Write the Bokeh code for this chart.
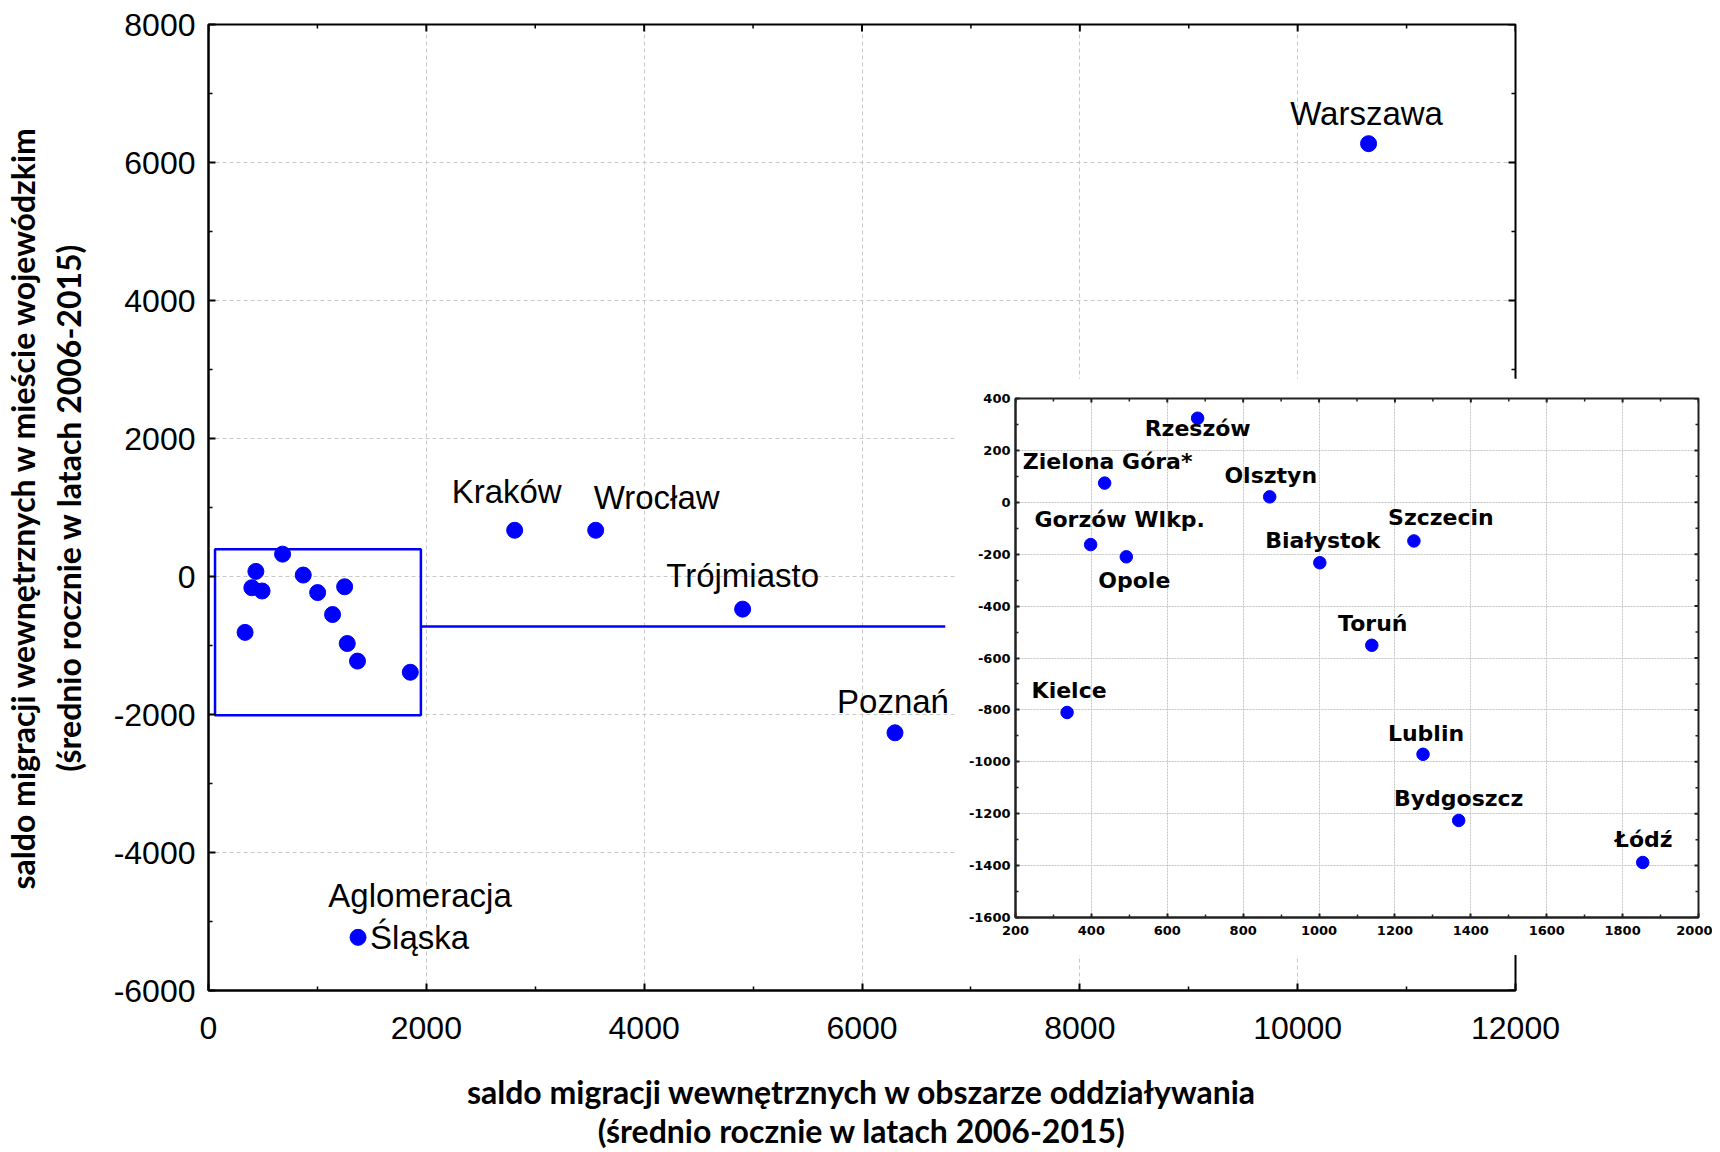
import math
from bokeh.plotting import figure
from bokeh.models import ColumnDataSource, FixedTicker, Range1d
from bokeh.embed import file_html
from bokeh.resources import INLINE
from bokeh.core.properties import value

# ---------------- data ----------------
main_cities = ["Warszawa", "Kraków", "Wrocław", "Trójmiasto", "Poznań", "Aglomeracja Śląska"]
main_x = [10651, 2811, 3555, 4904, 6303, 1373]
main_y = [6273, 670, 670, -473, -2265, -5230]

inset_cities = ["Rzeszów", "Zielona Góra*", "Olsztyn", "Gorzów Wlkp.", "Opole", "Białystok",
                "Szczecin", "Toruń", "Kielce", "Lublin", "Bydgoszcz", "Łódź"]
inset_x = [680, 435, 870, 398, 492, 1002, 1250, 1139, 336, 1274, 1368, 1853]
inset_y = [324, 74, 21, -163, -210, -233, -149, -551, -810, -971, -1226, -1388]

main_x_ticks = [0, 2000, 4000, 6000, 8000, 10000, 12000]
main_y_ticks = [-6000, -4000, -2000, 0, 2000, 4000, 6000, 8000]
inset_x_ticks = [200, 400, 600, 800, 1000, 1200, 1400, 1600, 1800, 2000]
inset_y_ticks = [-1600, -1400, -1200, -1000, -800, -600, -400, -200, 0, 200, 400]

zoom_box_x = [60, 1950]
zoom_box_y = [-2010, 395]
leader_x = [1950, 6764]
leader_y = [-725, -725]

x_title = "saldo migracji wewnętrznych w obszarze oddziaływania\n(średnio rocznie w latach 2006-2015)"
y_title = "saldo migracji wewnętrznych w mieście wojewódzkim\n(średnio rocznie w latach 2006-2015)"

# ---------------- styles ----------------
BLUE = "#0000ff"
MAIN_LABEL_POS = {  # per label line: (align, dx px, dy px)
    "Warszawa": [("center", -2, -30)],
    "Kraków": [("center", -8, -39)],
    "Wrocław": [("left", -2, -33)],
    "Trójmiasto": [("center", 0, -34)],
    "Poznań": [("center", -2, -31)],
    "Aglomeracja Śląska": [("center", 62, -42), ("left", 12, 0)],
}
INSET_LABEL_POS = {
    "Rzeszów": (0, 10), "Zielona Góra*": (3, -22), "Olsztyn": (1, -21),
    "Gorzów Wlkp.": (29, -25), "Opole": (8, 24), "Białystok": (3, -22),
    "Szczecin": (27, -23), "Toruń": (1, -22), "Kielce": (2, -22),
    "Lublin": (3, -21), "Bydgoszcz": (0, -22), "Łódź": (1, -23),
}


def mids(t):
    return [(a + b) / 2 for a, b in zip(t[:-1], t[1:])]


def style_axis(ax, ticks, font, size, bold, standoff, tick_in, minor_in, color):
    ax.ticker = FixedTicker(ticks=ticks, minor_ticks=mids(ticks))
    ax.major_label_overrides = {t: str(t) for t in ticks}
    ax.axis_line_width = 2
    ax.axis_line_color = color
    ax.major_tick_line_color = color
    ax.minor_tick_line_color = color
    ax.major_tick_line_width = 2
    ax.minor_tick_line_width = 1.5
    ax.major_tick_in = tick_in
    ax.major_tick_out = 0
    ax.minor_tick_in = minor_in
    ax.minor_tick_out = 0
    ax.major_label_text_font = font
    ax.major_label_text_font_style = "bold" if bold else "normal"
    ax.major_label_text_font_size = size
    ax.major_label_text_color = "black"
    ax.major_label_standoff = standoff


def opposite_ticks(fig, xt, yt, x_end, y_end, major_len, minor_len, color):
    """inward tick marks on the top and right frame edges (outer half is clipped by the frame)"""
    fig.scatter(xt, [y_end] * len(xt), marker="dash", angle=math.pi / 2, size=2 * major_len,
                line_color=color, line_width=2)
    fig.scatter(mids(xt), [y_end] * (len(xt) - 1), marker="dash", angle=math.pi / 2,
                size=2 * minor_len, line_color=color, line_width=1.5)
    fig.scatter([x_end] * len(yt), yt, marker="dash", size=2 * major_len,
                line_color=color, line_width=2)
    fig.scatter([x_end] * (len(yt) - 1), mids(yt), marker="dash", size=2 * minor_len,
                line_color=color, line_width=1.5)


# ---------------- main figure ----------------
p = figure(width=1712, height=1152, x_range=Range1d(0, 12000), y_range=Range1d(-6000, 8000),
           output_backend="svg", toolbar_location=None,
           min_border_left=207, min_border_right=197, min_border_top=24, min_border_bottom=160,
           x_axis_label=x_title, y_axis_label=y_title)
p.outline_line_color = "black"
p.outline_line_width = 2
p.background_fill_color = "white"
p.border_fill_color = "white"

p.xgrid.ticker = FixedTicker(ticks=main_x_ticks)
p.ygrid.ticker = FixedTicker(ticks=main_y_ticks)
for g in (p.xgrid[0], p.ygrid[0]):
    g.grid_line_color = "#c8c8c8"
    g.grid_line_dash = "4 3"
    g.grid_line_width = 1

style_axis(p.xaxis[0], main_x_ticks, "Liberation Sans", "32px", False, 26, 7, 4, "black")
style_axis(p.yaxis[0], main_y_ticks, "Liberation Sans", "32px", False, 13, 7, 4, "black")
for ax in (p.xaxis[0], p.yaxis[0]):
    ax.axis_label_text_font = "Lato"
    ax.axis_label_text_font_style = "bold"
    ax.axis_label_text_font_size = "32px"
    ax.axis_label_text_color = "black"
p.xaxis[0].axis_label_text_line_height = 1.0
p.xaxis[0].axis_label_standoff = 30
p.yaxis[0].axis_label_text_line_height = 1.17
p.yaxis[0].axis_label_standoff = 23

opposite_ticks(p, main_x_ticks, main_y_ticks, main_x_ticks[-1], main_y_ticks[-1], 7, 4, "black")

# zoom box + leader line
p.quad(left=[zoom_box_x[0]], right=[zoom_box_x[1]], bottom=[zoom_box_y[0]], top=[zoom_box_y[1]],
       fill_alpha=0, line_color=BLUE, line_width=2.5)
p.line(leader_x, leader_y, line_color=BLUE, line_width=2.5)

# points
p.scatter(main_x, main_y, size=16, color=BLUE)
p.scatter(inset_x, inset_y, size=16, color=BLUE)

# labels
groups = {}
for name, x, y in zip(main_cities, main_x, main_y):
    pos = MAIN_LABEL_POS[name]
    parts = name.split(" ") if len(pos) > 1 else [name]
    for part, (align, dx, dy) in zip(parts, pos):
        g = groups.setdefault(align, dict(x=[], y=[], text=[], dx=[], dy=[]))
        g["x"].append(x); g["y"].append(y); g["text"].append(part)
        g["dx"].append(dx); g["dy"].append(dy)
for align, g in groups.items():
    p.text(x="x", y="y", text="text", x_offset="dx", y_offset="dy", source=ColumnDataSource(g),
           text_font=value("Liberation Sans"), text_font_size="33px", text_color="black",
           text_align=align, text_baseline="alphabetic")

# ---------------- inset figure (absolutely positioned over the main one) ----------------
ins = figure(width=757, height=577, x_range=Range1d(200, 2000), y_range=Range1d(-1600, 400),
             output_backend="svg", toolbar_location=None,
             min_border_left=60, min_border_right=14, min_border_top=20, min_border_bottom=38,
             styles={"position": "absolute", "left": "955px", "top": "378px"})
ins.outline_line_color = "#222222"
ins.outline_line_width = 2
ins.background_fill_color = "white"
ins.border_fill_color = "white"
ins.xgrid.ticker = FixedTicker(ticks=inset_x_ticks)
ins.ygrid.ticker = FixedTicker(ticks=inset_y_ticks)
for g in (ins.xgrid[0], ins.ygrid[0]):
    g.grid_line_color = "#c4c4c4"
    g.grid_line_dash = "2 1"
    g.grid_line_width = 1
style_axis(ins.xaxis[0], inset_x_ticks, "DejaVu Sans", "13px", True, 8, 4, 3, "#222222")
style_axis(ins.yaxis[0], inset_y_ticks, "DejaVu Sans", "13px", True, 5, 4, 3, "#222222")
opposite_ticks(ins, inset_x_ticks, inset_y_ticks, inset_x_ticks[-1], inset_y_ticks[-1], 4, 3, "#222222")

ins.scatter(inset_x, inset_y, size=12.5, color=BLUE)
isrc = ColumnDataSource(dict(x=inset_x, y=inset_y, text=inset_cities,
                             dx=[INSET_LABEL_POS[c][0] for c in inset_cities],
                             dy=[INSET_LABEL_POS[c][1] for c in inset_cities]))
ins.text(x="x", y="y", text="text", x_offset="dx", y_offset="dy", source=isrc,
         text_font=value("DejaVu Sans"), text_font_style="bold", text_font_size="22px",
         text_color="black", text_align="center", text_baseline="alphabetic")

open("out.html", "w").write(file_html([p, ins], INLINE))
